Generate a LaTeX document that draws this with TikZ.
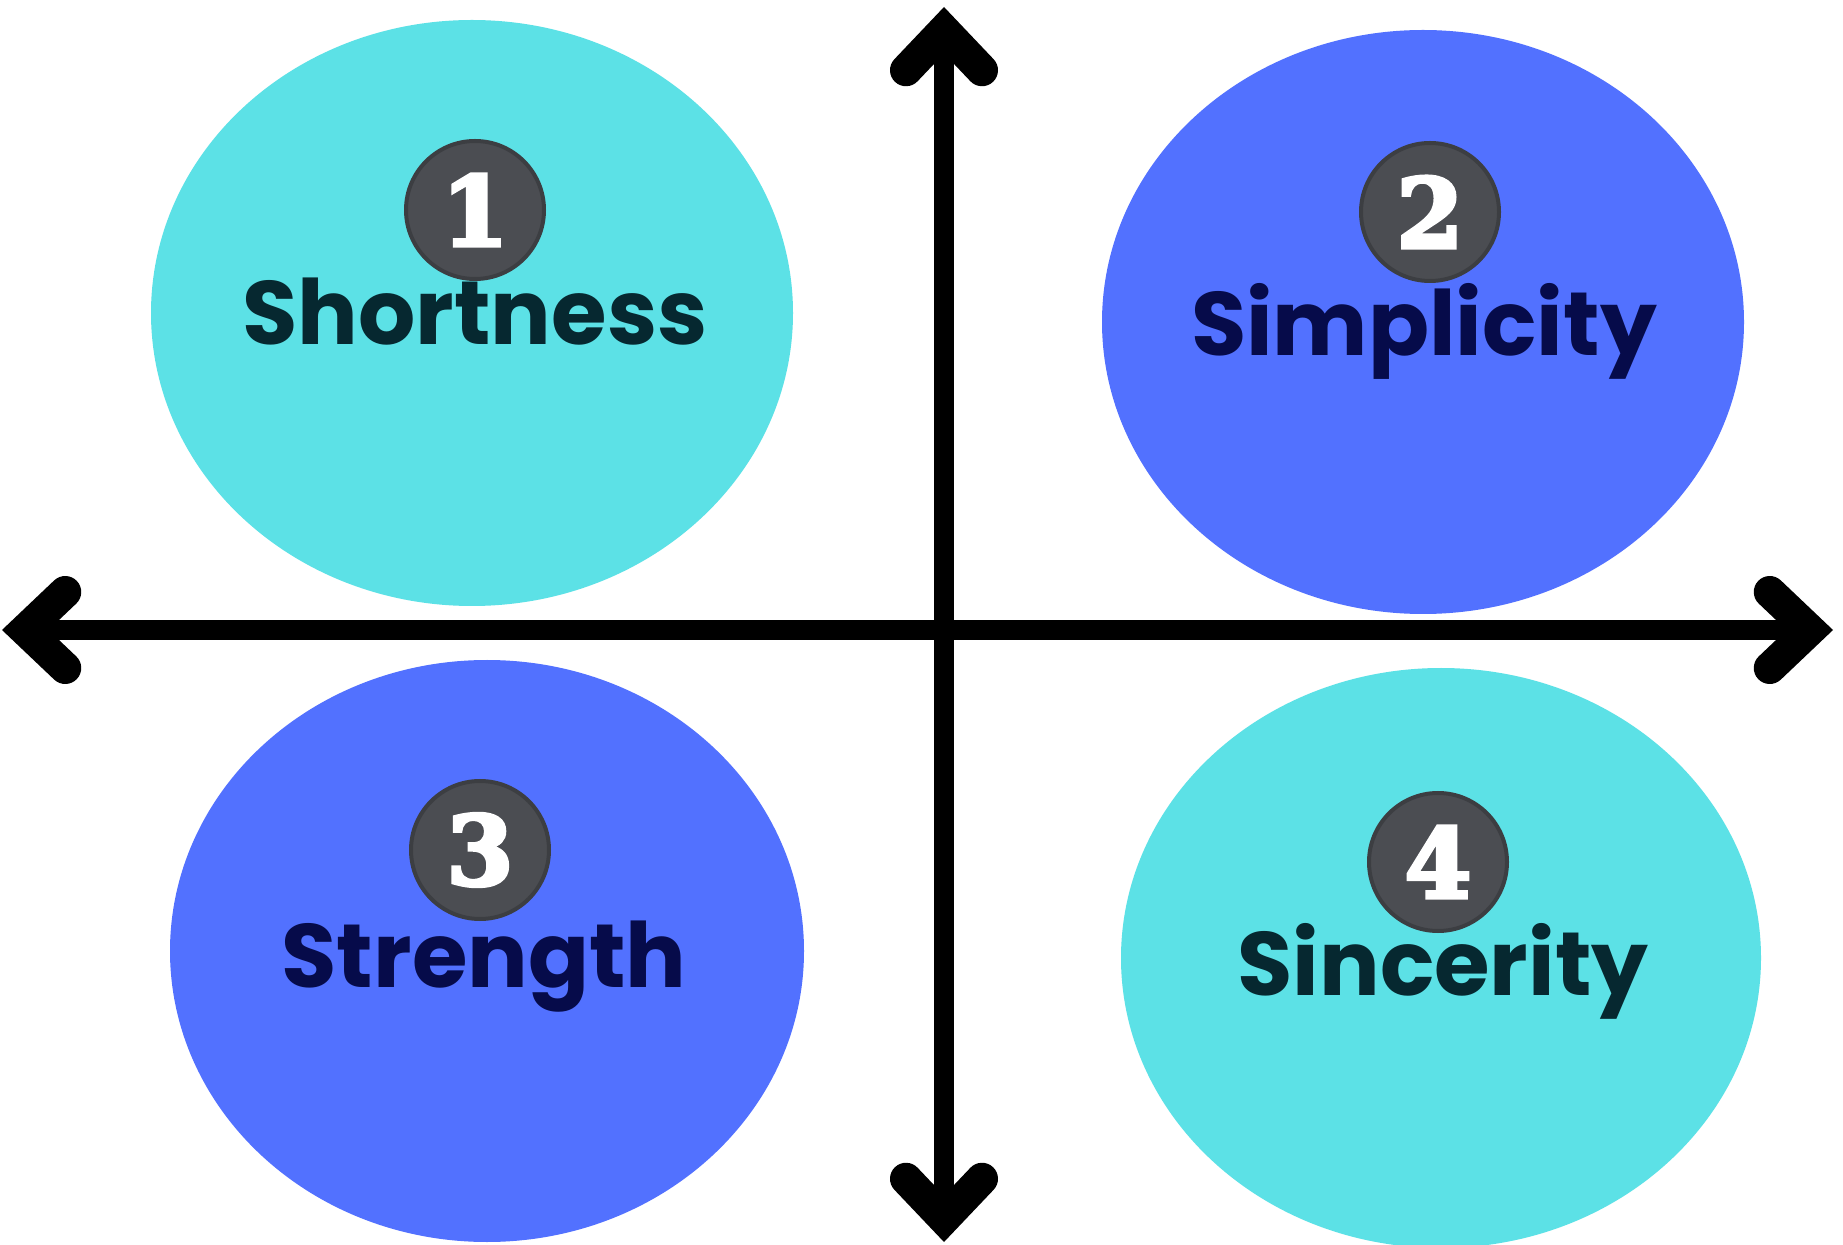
\documentclass[tikz,border=0pt]{standalone}
\usepackage{fontspec}
\setmainfont{Poppins}
\newfontfamily\numfont{DejaVu Serif}[BoldFeatures={FakeBold=4}]
\usetikzlibrary{arrows.meta,shapes.geometric}
\definecolor{turq}{HTML}{5CE1E6}
\definecolor{royal}{HTML}{5271FF}
\definecolor{badgegray}{HTML}{4B4D52}
\definecolor{inkteal}{HTML}{062830}
\definecolor{inknavy}{HTML}{060B4A}
\tikzset{
  blob/.style={ellipse, draw=none, inner sep=0pt},
  badge/.style={circle, fill=badgegray, draw=badgegray!80!black, line width=2pt,
    minimum size=69pt, inner sep=0pt, text=white, font=\numfont\bfseries\fontsize{48}{48}\selectfont},
  label/.style={anchor=base, inner sep=0pt, font=\bfseries\fontsize{45}{45}\selectfont},
  barb/.tip={Straight Barb[length=20pt,width=38pt,line width=16pt,line cap=round,line join=miter]},
  axis/.style={line width=10pt, draw=black, barb-barb}
}
\begin{document}
\begin{tikzpicture}[x=0.5pt,y=-0.5pt]
\useasboundingbox (0,0) rectangle (1843,1245);
\fill[white] (0,0) rectangle (1843,1245);
% ellipses
\node[blob, fill=turq, minimum width=321pt, minimum height=293pt] (e1) at (472,313) {};
\node[blob, fill=royal, minimum width=321pt, minimum height=292pt] (e2) at (1423,322) {};
\node[blob, fill=royal, minimum width=317pt, minimum height=291pt] (e3) at (487,951) {};
\node[blob, fill=turq, minimum width=320pt, minimum height=290pt] (e4) at (1441,958) {};
% axes
\coordinate (L) at (2,630);
\coordinate (R) at (1833,630);
\coordinate (T) at (944,7);
\coordinate (B) at (944,1242);
\draw[axis] (L) -- (R);
\draw[axis] (B) -- (T);
% badges
\node[badge] (b1) at (475,210) {1};
\node[badge] (b2) at (1430,212) {2};
\node[badge] (b3) at (480,850) {3};
\node[badge] (b4) at (1438,862) {4};
% labels
\node[label, text=inkteal] (t1) at (475,345) {Shortness};
\node[label, text=inknavy] (t2) at (1424,356) {Simplicity};
\node[label, text=inknavy] (t3) at (484,987) {Strength};
\node[label, text=inkteal] (t4) at (1443,995) {Sincerity};
\end{tikzpicture}
\end{document}
